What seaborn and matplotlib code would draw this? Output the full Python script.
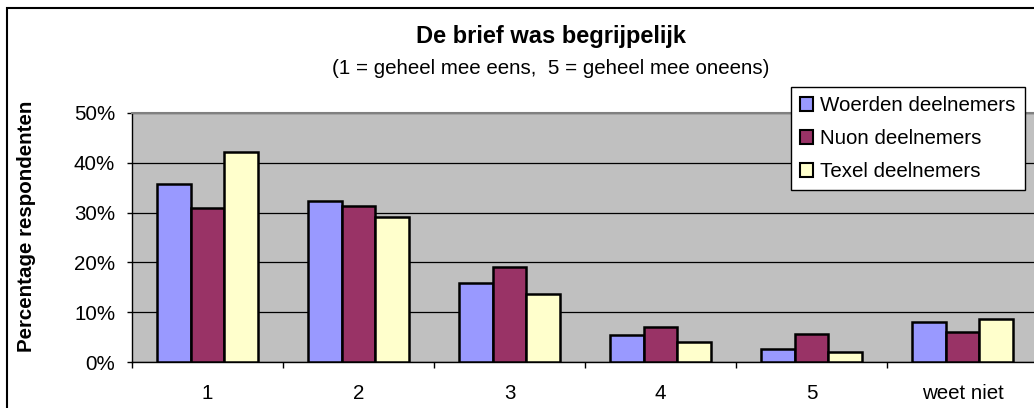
"""Staafdiagram: De brief was begrijpelijk (Woerden / Nuon / Texel)."""
import pandas as pd
import matplotlib
matplotlib.use("Agg")
import matplotlib.pyplot as plt
from matplotlib.patches import Patch, Rectangle
from matplotlib.ticker import FixedLocator, FuncFormatter
import seaborn as sns

categories = ["1", "2", "3", "4", "5", "weet niet"]
groups = ["Woerden deelnemers", "Nuon deelnemers", "Texel deelnemers"]
woerden = [35.7, 32.3, 15.8, 5.4, 2.7, 8.0]
nuon = [30.9, 31.4, 19.0, 7.0, 5.6, 6.0]
texel = [42.2, 29.2, 13.6, 4.0, 2.0, 8.7]
colors = ["#9999FF", "#993366", "#FFFFCC"]

df = pd.DataFrame({
    "cat": categories * 3,
    "groep": [g for g in groups for _ in categories],
    "pct": woerden + nuon + texel,
})

sns.set_style("white")
plt.rcParams["font.family"] = ["Liberation Sans", "DejaVu Sans"]
plt.rcParams["text.color"] = "black"
plt.rcParams["xtick.labelcolor"] = "black"
plt.rcParams["ytick.labelcolor"] = "black"

FS = 14.8

W, H = 1034, 408
fig = plt.figure(figsize=(W / 100, H / 100), dpi=100)
ax = fig.add_axes([132 / W, 1 - 362 / H, 906 / W, (362 - 113) / H])
ax.set_facecolor("#C0C0C0")

sns.barplot(data=df, x="cat", y="pct", hue="groep", order=categories,
            hue_order=groups, palette=colors, width=0.667, gap=0,
            edgecolor="black", linewidth=1.8, saturation=1,
            legend=False, ax=ax, zorder=3)

ax.set_xlim(-0.5, 5.5)
ax.set_ylim(0, 50)
ax.set_yticks(range(0, 51, 10))
ax.yaxis.set_major_formatter(FuncFormatter(lambda v, _: f"{v:.0f}%"))
ax.grid(axis="y", color="black", linewidth=0.9, zorder=0)
ax.set_axisbelow(True)
ax.set_xlabel("")
ax.set_ylabel("")

ax.xaxis.set_minor_locator(FixedLocator([i - 0.5 for i in range(7)]))
ax.tick_params(axis="x", which="major", length=0, pad=16, labelsize=FS)
ax.tick_params(axis="x", which="minor", length=4.3, width=1, color="black",
               direction="out", bottom=True)
ax.tick_params(axis="y", length=3.6, width=1, color="black", direction="out",
               left=True, pad=8.5, labelsize=FS)

for side in ["left", "bottom"]:
    ax.spines[side].set_color("black")
    ax.spines[side].set_linewidth(1)
ax.spines["top"].set_color("#808080")
ax.spines["top"].set_linewidth(1.5)
ax.spines["right"].set_visible(False)

fig.text(551 / W, 1 - 37 / H, "De brief was begrijpelijk", ha="center",
         va="center", fontsize=17, fontweight="bold")
fig.text(551 / W, 1 - 68 / H, "(1 = geheel mee eens,  5 = geheel mee oneens)",
         ha="center", va="center", fontsize=FS)
fig.text(27 / W, 1 - 226 / H, "Percentage respondenten", rotation=90,
         ha="center", va="center", fontsize=FS, fontweight="bold")

handles = [Patch(facecolor=c, edgecolor="black", linewidth=1.5) for c in colors]
leg = fig.legend(handles, groups, loc="upper right",
                 bbox_to_anchor=(1025 / W, 1 - 87 / H), fontsize=FS,
                 frameon=True, fancybox=False, framealpha=1,
                 edgecolor="black", handlelength=0.62, handleheight=0.62,
                 handletextpad=0.35, labelspacing=0.68, borderpad=0.45,
                 borderaxespad=0)
leg.get_frame().set_linewidth(1)

fig.patches.append(Rectangle((7 / W, -0.1), 1.1, 1 - 8 / H + 0.1,
                             transform=fig.transFigure, fill=False,
                             edgecolor="black", linewidth=1.5))

fig.savefig("out.png", dpi=100)
